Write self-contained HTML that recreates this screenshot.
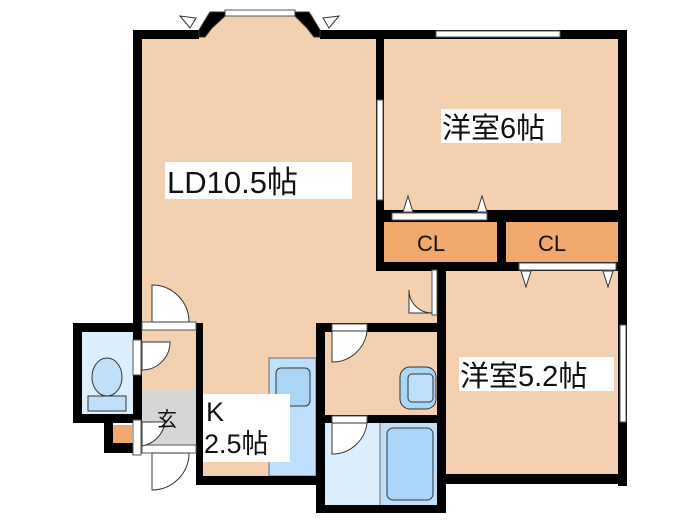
<!DOCTYPE html>
<html><head><meta charset="utf-8"><style>
html,body{margin:0;padding:0;background:#fff;width:700px;height:525px;overflow:hidden}
svg{display:block}
text{font-family:"Liberation Sans","Noto Sans CJK JP",sans-serif;fill:#111}
</style></head><body>
<svg width="700" height="525" viewBox="0 0 700 525" xmlns="http://www.w3.org/2000/svg">
<!-- floors -->
<rect x="140" y="37" width="240" height="290" fill="#f2d0b0"/>
<rect x="140" y="325" width="60" height="120" fill="#f2d0b0"/>
<rect x="200" y="320" width="120" height="160" fill="#f2d0b0"/>
<rect x="380" y="37" width="242" height="180" fill="#f2d0b0"/>
<rect x="440" y="268" width="182" height="210" fill="#f2d0b0"/>
<rect x="380" y="262" width="62" height="64" fill="#f2d0b0"/>
<polygon points="198,37 208,14 312,14 322,37" fill="#f2d0b0"/>
<!-- CL -->
<rect x="384" y="222" width="113" height="40" fill="#f0a86c"/>
<rect x="506" y="222" width="113" height="40" fill="#f0a86c"/>
<!-- genkan -->
<rect x="142" y="390" width="55" height="55" fill="#d6d6d6"/>
<!-- toilet room -->
<rect x="80" y="330" width="55" height="86" fill="#dcefff"/>
<ellipse cx="107" cy="377" rx="15" ry="19" fill="#bfe0fb" stroke="#333" stroke-width="1"/>
<rect x="88" y="396" width="38" height="15" fill="#bfe0fb" stroke="#333" stroke-width="1"/>
<rect x="110" y="425" width="22" height="20" fill="#f0a86c"/>
<!-- kitchen counter -->
<rect x="269" y="358" width="47" height="118" fill="#bfe0fb" stroke="#555" stroke-width="0.8"/>
<rect x="276" y="368" width="34" height="38" rx="5" fill="#a9d5f7" stroke="#333" stroke-width="1"/>
<!-- wash room -->
<rect x="323" y="330" width="117" height="86" fill="#f2d0b0"/>
<rect x="400" y="367" width="36" height="42" rx="10" fill="#a9d5f7" stroke="#333"/>
<rect x="408" y="374" width="25" height="28" rx="4" fill="#bfe0fb" stroke="#333"/>
<!-- bath -->
<rect x="323" y="422" width="117" height="86" fill="#dcefff"/>
<rect x="380" y="422" width="60" height="86" fill="#bfe0fb" stroke="#555" stroke-width="0.8"/>
<rect x="387" y="428" width="46" height="72" rx="6" fill="#a9d5f7" stroke="#333"/>
<g fill="#000">
<rect x="133" y="30" width="66" height="9"/>
<rect x="320" y="30" width="307" height="9"/>
<rect x="133" y="30" width="9" height="295"/>
<rect x="618" y="30" width="9" height="456"/>
<rect x="376" y="37" width="8" height="233"/>
<rect x="376" y="210" width="250" height="12"/>
<rect x="376" y="262" width="250" height="9"/>
<rect x="497" y="216" width="9" height="50"/>
<rect x="437" y="266" width="9" height="247"/>
<rect x="437" y="474" width="190" height="10"/>
<rect x="316" y="323" width="130" height="9"/>
<rect x="316" y="323" width="9" height="190"/>
<rect x="316" y="505" width="130" height="8"/>
<rect x="316" y="415" width="126" height="8"/>
<rect x="196" y="323" width="7" height="162"/>
<rect x="196" y="476" width="124" height="9"/>
<rect x="73" y="323" width="69" height="9"/>
<rect x="73" y="323" width="9" height="100"/>
<rect x="73" y="414" width="69" height="9"/>
<rect x="133" y="323" width="9" height="130"/>
<rect x="104" y="414" width="9" height="39"/>
<rect x="104" y="443" width="38" height="10"/>
</g>
<g fill="#fff" stroke="#555" stroke-width="1">
<rect x="436" y="31" width="124" height="6"/>
<rect x="377" y="100" width="6" height="100"/>
<rect x="620" y="325" width="6" height="97"/>
<rect x="142" y="322" width="54" height="8"/>
<rect x="142" y="445" width="54" height="8"/>
<rect x="133" y="340" width="8" height="35"/>
<rect x="133" y="420" width="8" height="35"/>
<rect x="392" y="213" width="95" height="7"/>
<rect x="519" y="263" width="97" height="7"/>
<rect x="432" y="270" width="5" height="45"/>
<rect x="332" y="324" width="35" height="7"/>
<rect x="332" y="416" width="35" height="7"/>
<rect x="225" y="10" width="70" height="6"/>
</g>
<g fill="#fff" stroke="#333" stroke-width="1">
<path d="M152,322 V285 A37,37 0 0 1 189,322 Z"/>
<path d="M142,342 H170 A28,28 0 0 1 142,370 Z" />
<path d="M142,422 H165 A28,28 0 0 1 142,446 Z"/>
<path d="M152,453 V490 A37,37 0 0 0 189,453 Z"/>
<path d="M432,313 H409 V290 A23,23 0 0 0 432,313 Z"/>
<path d="M332,331 H367 A35,35 0 0 1 332,362 Z"/>
<path d="M332,423 H367 A35,35 0 0 1 332,454 Z"/>
</g>
<g fill="#fff" stroke="#333" stroke-width="1">
<polygon points="199,30 210,12 225,12 225,16 212,28 205,37 199,37" fill="#000"/>
<polygon points="320,30 309,12 295,12 295,16 307,28 314,37 320,37" fill="#000"/>
<path d="M196,18 L180,16 L190,28 Z"/>
<path d="M323,18 L339,16 L329,28 Z"/>
</g>
<g fill="#fff" stroke="#333" stroke-width="1">
<polygon points="403,212 408,196 413,212"/>
<polygon points="477,212 482,196 487,212"/>
<polygon points="521,271 526,287 531,271"/>
<polygon points="603,271 608,287 613,271"/>
</g>
<rect x="165" y="162" width="187" height="37" fill="#fff"/>
<text x="167" y="193" font-size="31">LD10.5帖</text>
<rect x="441" y="109" width="120" height="34" fill="#fff"/>
<text x="442" y="138" font-size="29">洋室6帖</text>
<rect x="459" y="357" width="155" height="34" fill="#fff"/>
<text x="460" y="386" font-size="29">洋室5.2帖</text>
<text x="417" y="251" font-size="22">CL</text>
<text x="538" y="251" font-size="22">CL</text>
<rect x="203" y="394" width="87" height="68" fill="#fff"/>
<text x="206" y="421" font-size="27">K</text>
<text x="204" y="453" font-size="27">2.5帖</text>
<text x="157" y="426" font-size="20">玄</text>
</svg>
</body></html>
